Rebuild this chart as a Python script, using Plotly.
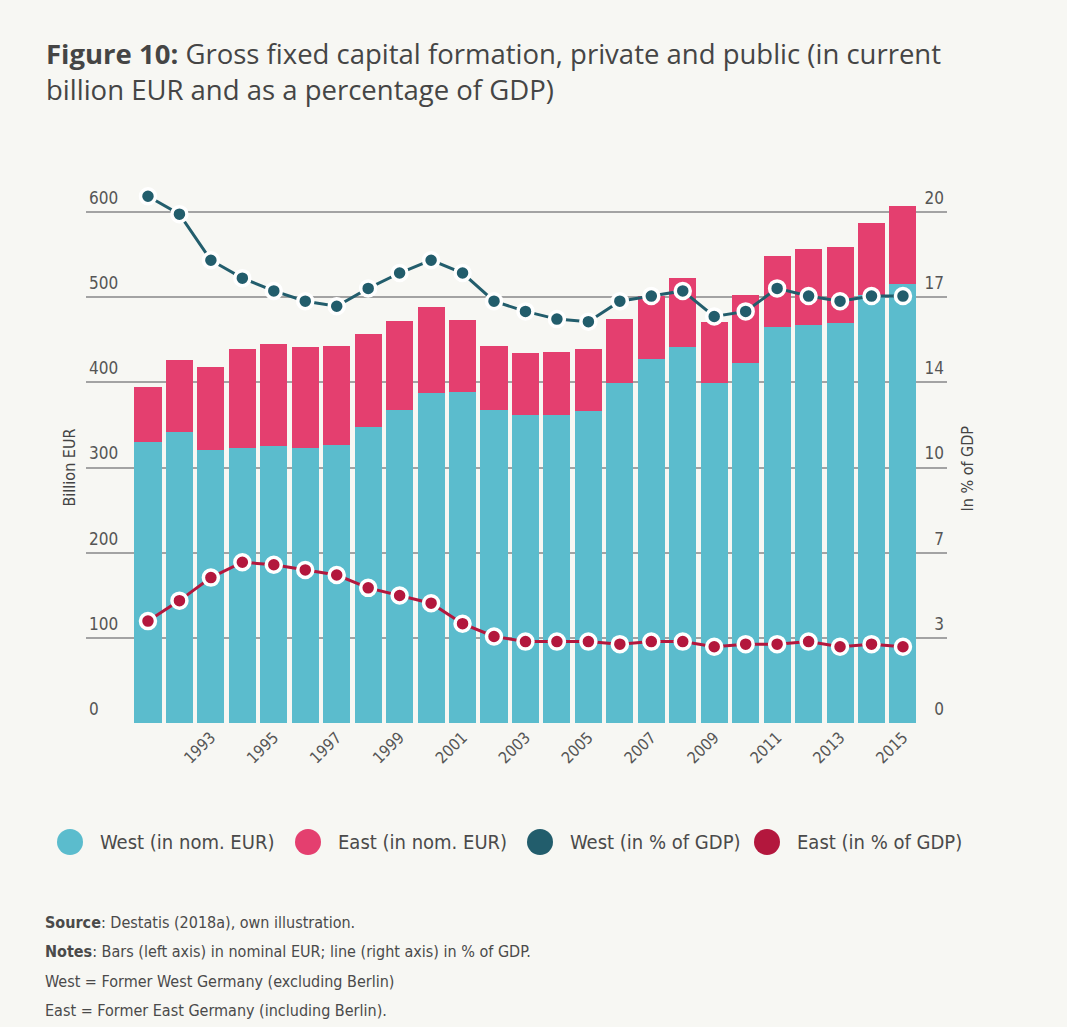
import plotly.graph_objects as go

# ---- data -------------------------------------------------------------
years = list(range(1991, 2016))
west_eur = [330, 342, 321, 323, 325, 323, 327, 347, 368, 387, 389, 368, 362,
            362, 366, 399, 427, 441, 399, 422, 465, 467, 470, 502, 515]
east_eur = [64, 84, 97, 116, 120, 118, 116, 110, 104, 101, 84, 75, 72,
            73, 73, 75, 74, 81, 72, 80, 83, 89, 88, 85, 91]
west_pct = [20.6, 19.9, 18.1, 17.4, 16.9, 16.5, 16.3, 17.0, 17.6, 18.1, 17.6, 16.5, 16.1,
            15.8, 15.7, 16.5, 16.7, 16.9, 15.9, 16.1, 17.0, 16.7, 16.5, 16.7, 16.7]
east_pct = [4.0, 4.8, 5.7, 6.3, 6.2, 6.0, 5.8, 5.3, 5.0, 4.7, 3.9, 3.4, 3.2,
            3.2, 3.2, 3.1, 3.2, 3.2, 3.0, 3.1, 3.1, 3.2, 3.0, 3.1, 3.0]

eur_ticks = [0, 100, 200, 300, 400, 500, 600]
pct_ticks = [0, 20 / 6, 40 / 6, 10, 80 / 6, 100 / 6, 20]
pct_tick_text = ["0", "3", "7", "10", "14", "17", "20"]
year_ticks = list(range(1993, 2016, 2))

legend_labels = ["West (in nom. EUR)", "East (in nom. EUR)",
                 "West (in % of GDP)", "East (in % of GDP)"]

# ---- styling ----------------------------------------------------------
BG = "#f7f7f3"
WEST_BAR = "#5bbccd"
EAST_BAR = "#e43f6f"
WEST_LINE = "#225d6c"
EAST_LINE = "#b3173d"
NARROW = "Liberation Sans Narrow, DejaVu Sans Condensed, Roboto, sans-serif"

W, H = 1067, 1027
L, R, T, B = 86, 947, 186, 724   # plot area in pixels


def px_x(x):
    return (x - L) / (R - L)


def px_y(y):
    return (B - y) / (B - T)


fig = go.Figure()

fig.add_trace(go.Bar(x=years, y=west_eur, name=legend_labels[0],
                     marker=dict(color=WEST_BAR, line=dict(width=0))))
fig.add_trace(go.Bar(x=years, y=east_eur, name=legend_labels[1],
                     marker=dict(color=EAST_BAR, line=dict(width=0))))

for vals, col, lab in [(west_pct, WEST_LINE, legend_labels[2]),
                       (east_pct, EAST_LINE, legend_labels[3])]:
    fig.add_trace(go.Scatter(x=years, y=vals, yaxis="y2", mode="lines+markers",
                             name=lab, cliponaxis=False,
                             line=dict(color=col, width=3),
                             marker=dict(size=15, color=col,
                                         line=dict(color="white", width=3.5))))

fig.update_layout(
    width=W, height=H,
    margin=dict(l=L, r=W - R, t=T, b=H - B, autoexpand=False),
    paper_bgcolor=BG, plot_bgcolor=BG,
    barmode="stack", bargap=0.14,
    showlegend=False,
    font=dict(family=NARROW, color="#4a4a4a"),
    xaxis=dict(range=[1989.03, 2016.4], tickvals=year_ticks,
               ticktext=[str(v) for v in year_ticks], tickangle=-45,
               tickfont=dict(size=16, color="#555555"),
               showgrid=False, zeroline=False, showline=False, ticks=""),
    yaxis=dict(range=[-0.6, 630], tickvals=eur_ticks,
               ticklabelposition="inside", ticklabelshift=-14, ticklabelstandoff=0,
               tickfont=dict(size=17, color="#555555"),
               showgrid=True, gridcolor="#a3a3a3", gridwidth=1.5,
               zeroline=False, showline=False, ticks=""),
    yaxis2=dict(range=[-0.02, 21], overlaying="y", side="right",
                tickvals=pct_ticks, ticktext=pct_tick_text,
                ticklabelposition="inside", ticklabelshift=-14, ticklabelstandoff=0,
                tickfont=dict(size=17, color="#555555"),
                showgrid=False, zeroline=False, showline=False, ticks=""),
)

annotations = [
    dict(text="<b>Figure 10:</b> Gross fixed capital formation, private and public (in current"
              "<br>billion EUR and as a percentage of GDP)",
         x=px_x(44), y=px_y(33), xref="paper", yref="paper",
         xanchor="left", yanchor="top", align="left", showarrow=False,
         font=dict(family="Open Sans", size=27.5, color="#454545")),
    dict(text="Billion EUR", textangle=-90, x=px_x(57), y=px_y(468),
         xref="paper", yref="paper", showarrow=False,
         font=dict(size=16, color="#444444")),
    dict(text="In % of GDP", textangle=-90, x=px_x(978), y=px_y(468),
         xref="paper", yref="paper", showarrow=False,
         font=dict(size=16, color="#444444")),
]

# legend row drawn as circles + labels
shapes = []
legend_colors = [WEST_BAR, EAST_BAR, WEST_LINE, EAST_LINE]
circle_x = [70, 308, 540, 767]
legend_y = 842
for cx, col, lab in zip(circle_x, legend_colors, legend_labels):
    shapes.append(dict(type="circle", xref="paper", yref="paper",
                       xsizemode="pixel", ysizemode="pixel",
                       xanchor=px_x(cx), yanchor=px_y(legend_y),
                       x0=-13, x1=13, y0=-13, y1=13,
                       fillcolor=col, line=dict(width=0)))
    annotations.append(dict(text=lab, x=px_x(cx + 28), y=px_y(legend_y),
                            xref="paper", yref="paper", xanchor="left",
                            yanchor="middle", showarrow=False,
                            font=dict(size=20, color="#4a4a4a")))

notes = [
    "<b>Source</b>: Destatis (2018a), own illustration.",
    "<b>Notes</b>: Bars (left axis) in nominal EUR; line (right axis) in % of GDP.",
    "West = Former West Germany (excluding Berlin)",
    "East = Former East Germany (including Berlin).",
]
for i, line in enumerate(notes):
    annotations.append(dict(text=line, x=px_x(43), y=px_y(922 + 29.5 * i),
                            xref="paper", yref="paper", xanchor="left",
                            yanchor="middle", showarrow=False,
                            font=dict(size=16, color="#4a4a4a")))

fig.update_layout(annotations=annotations, shapes=shapes)

fig.write_html("out.html")
